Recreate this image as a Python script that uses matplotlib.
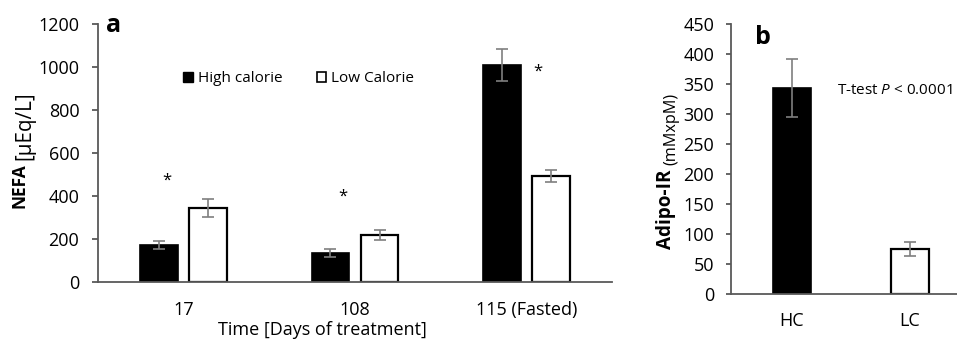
import matplotlib
matplotlib.use("Agg")
import matplotlib.pyplot as plt
from matplotlib.patches import Patch
import numpy as np

plt.rcParams['font.family'] = ['Open Sans', 'DejaVu Sans']
plt.rcParams['mathtext.fontset'] = 'custom'
plt.rcParams['mathtext.rm'] = 'Open Sans'
plt.rcParams['mathtext.it'] = 'Open Sans:italic'

# Panel a data
days = ["17", "108", "115 (Fasted)"]
hc_nefa = [172, 135, 1009]
hc_err = [20, 20, 75]
lc_nefa = [344, 219, 493]
lc_err = [40, 22, 30]
star_y = [470, 395, 980]

# Panel b data
groups = ["HC", "LC"]
adipo = [343, 75]
adipo_err = [48, 11]

W, H = 957, 339
fig = plt.figure(figsize=(W/100, H/100), dpi=100)
renderer = fig.canvas.get_renderer()

grey = '#7f7f7f'
axcol = '#595959'

def px(x0, y0, x1, y1):
    return [x0/W, 1-y1/H, (x1-x0)/W, (y1-y0)/H]

def vlabel(xc, y0, y1, s, **kw):
    t = fig.text(xc/W, 1-(y0+y1)/2/H, s, fontsize=10, rotation=90,
                 ha='center', va='center', **kw)
    h = t.get_window_extent(renderer).height
    t.set_fontsize(10*(y1-y0)/h)
    return t

ekw = dict(ecolor=grey, elinewidth=1.2, capsize=4, capthick=1.2)

ax1 = fig.add_axes(px(98, 24, 612, 282))
x = np.arange(len(days))
bw = 0.22
off = 0.143
ax1.bar(x-off, hc_nefa, bw, color='black', edgecolor='black', linewidth=1.2,
        yerr=hc_err, error_kw=ekw)
ax1.bar(x+off, lc_nefa, bw, color='white', edgecolor='black', linewidth=1.6,
        yerr=lc_err, error_kw=ekw)
star_x = [x[0]-0.1, x[1]-0.07, x[2]+0.07]
for sx, sy in zip(star_x, star_y):
    ax1.text(sx, sy, "*", ha='center', va='center', fontsize=12)
ax1.set_xlim(-0.5, 2.5)
ax1.set_ylim(0, 1200)
ax1.set_yticks(range(0, 1201, 200))
ax1.set_xticks(x)
ax1.set_xticklabels(days)
for s in ['top', 'right']:
    ax1.spines[s].set_visible(False)
for s in ['left', 'bottom']:
    ax1.spines[s].set_color(axcol)
    ax1.spines[s].set_linewidth(1.3)
ax1.tick_params(axis='both', labelsize=13)
ax1.tick_params(axis='y', length=4.5, width=1.3, color=axcol, pad=9)
ax1.tick_params(axis='x', length=0, pad=14)
handles = [Patch(facecolor='black', edgecolor='black', label='High calorie'),
           Patch(facecolor='white', edgecolor='black', linewidth=1.2, label='Low Calorie')]
ax1.legend(handles=handles, ncol=2, frameon=False, fontsize=11,
           loc='center left', bbox_to_anchor=((183-98)/514, 0.787),
           borderaxespad=0, borderpad=0,
           handlelength=0.65, handleheight=0.65, handletextpad=0.3, columnspacing=2.25)
fig.text(106/W, 1-26/H, "a", fontsize=18, fontweight='bold', ha='left', va='center')
fig.text(19/W, 1-186/H, "NEFA", fontsize=12.5, fontweight='bold', rotation=90,
         ha='center', va='center')
vlabel(25, 91, 160, "[µEq/L]")
fig.text(322/W, 1-330/H, "Time [Days of treatment]", fontsize=13, ha='center', va='center')

ax2 = fig.add_axes(px(731, 24, 957, 294))
xb = np.arange(len(groups))
ax2.bar(xb[0], adipo[0], 0.32, color='black', edgecolor='black', linewidth=1.2,
        yerr=adipo_err[0], error_kw=ekw)
ax2.bar(xb[1], adipo[1], 0.32, color='white', edgecolor='black', linewidth=1.6,
        yerr=adipo_err[1], error_kw=ekw)
ax2.set_xlim(-0.517, 1.4)
ax2.set_ylim(0, 450)
ax2.set_yticks(range(0, 451, 50))
ax2.set_xticks(xb)
ax2.set_xticklabels(groups)
for s in ['top', 'right']:
    ax2.spines[s].set_visible(False)
for s in ['left', 'bottom']:
    ax2.spines[s].set_color(axcol)
    ax2.spines[s].set_linewidth(1.3)
ax2.tick_params(axis='both', labelsize=13)
ax2.tick_params(axis='y', length=3.5, width=1.3, color=axcol, pad=8.5)
ax2.tick_params(axis='x', length=0, pad=13)
fig.text(837/W, 1-90/H, "T-test $\\it{P}$ < 0.0001", fontsize=11, ha='left', va='center')
fig.text(755/W, 1-37/H, "b", fontsize=18, fontweight='bold', ha='left', va='center')
vlabel(666, 170, 249, "Adipo-IR", fontweight='bold')
vlabel(671, 93, 165, "(mMxpM)")

fig.savefig("out.png", dpi=100)
